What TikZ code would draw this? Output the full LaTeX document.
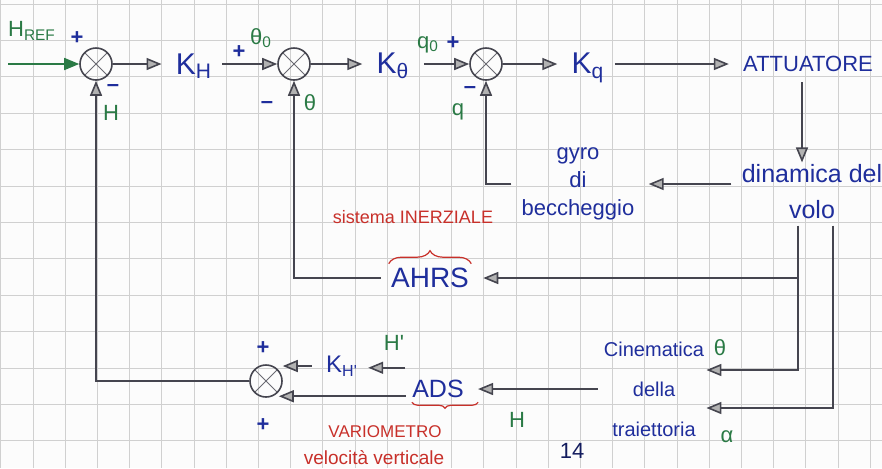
\documentclass[tikz,border=0pt]{standalone}
\usepackage{fontspec}
\setmainfont{Liberation Sans}
\usetikzlibrary{arrows.meta,positioning,calc,decorations.pathreplacing}
\definecolor{blueink}{HTML}{1F2E9C}
\definecolor{greenink}{HTML}{2A7A45}
\definecolor{redink}{HTML}{C8302A}
\definecolor{lineink}{HTML}{45454F}
\definecolor{gridink}{HTML}{D0D0D0}
\definecolor{paper}{HTML}{FCFCFC}
\tikzset{
  blk/.style={text=blueink, inner sep=1pt, align=center, font=\fontsize{11}{15}\selectfont},
  gain/.style={text=blueink, inner sep=1pt, font=\fontsize{15}{18}\selectfont},
  sig/.style={text=greenink, inner sep=1pt, font=\fontsize{11}{13}\selectfont},
  sgn/.style={text=blueink, inner sep=0pt, font=\fontsize{11}{13}\selectfont\bfseries},
  note/.style={text=redink, inner sep=1pt, align=center, font=\fontsize{8.5}{10}\selectfont},
  sumj/.style={circle, draw=lineink, line width=0.8pt, minimum size=16pt, inner sep=0pt,
    path picture={\draw[lineink!80, line width=0.5pt]
      (path picture bounding box.north west) -- (path picture bounding box.south east)
      (path picture bounding box.north east) -- (path picture bounding box.south west);}},
  arr/.style={-{Triangle[length=7.5pt, width=6pt, fill=gray!60]}, draw=lineink, line width=0.8pt},
  wire/.style={draw=lineink, line width=0.8pt},
  gridline/.style={draw=gridink, line width=0.5pt},
  redbrace/.style={draw=redink, line width=0.6pt, decorate},
}

\begin{document}
\begin{tikzpicture}[x=0.5pt, y=-0.5pt]
  \useasboundingbox (0,0) rectangle (882,468);
  \fill[paper] (0,0) rectangle (882,468);
  % squared paper
  \foreach \gx in {0,...,27} \draw[gridline] ({0.8+32.2*\gx},0) -- ++(0,468);
  \foreach \gy in {0,...,12} \draw[gridline] (0,{4+36.4*\gy}) -- ++(882,0);

  % forward chain
  \node[sig] (href) at (32,31) {H\textsubscript{REF}};
  \coordinate (hin) at (8,64);
  \node[sumj] (s1) at (96,64) {};
  \node[gain] (kh) at (194,66) {K\textsubscript{H}};
  \node[sumj] (s2) at (294,64) {};
  \node[gain] (kth) at (393,66) {K\textsubscript{θ}};
  \node[sumj] (s3) at (486,64) {};
  \node[gain] (kq) at (588,68) {K\textsubscript{q}};
  \node[blk] (att) at (808,64) {ATTUATORE};
  % plant and sensors
  \node[blk, font=\fontsize{12.5}{18}\selectfont] (dyn) at (812,192) {dinamica del\\volo};
  \node[blk, font=\fontsize{11}{14}\selectfont] (gyro) at (578,184) {gyro\\di\\beccheggio};
  \node[blk, font=\fontsize{14}{16}\selectfont] (ahrs) at (430,278) {AHRS};
  \node[blk, font=\fontsize{10}{20}\selectfont] (cin) at (654,389) {Cinematica\\della\\traiettoria};
  \node[blk, font=\fontsize{12.5}{15}\selectfont] (ads) at (438,389) {ADS};
  \node[gain, font=\fontsize{12}{14}\selectfont] (khd) at (342,366) {K\textsubscript{H\textquotesingle}};
  \node[sumj] (s4) at (266,381) {};

  % signs and signals
  \node[sgn] (p1) at (77,38) {+};
  \node[sgn] (m1) at (113,88) {–};
  \node[sig] (lbH) at (111,113) {H};
  \node[sgn] (p2) at (239,52) {+};
  \node[sig] (lbth0) at (261,38) {θ\textsubscript{0}};
  \node[sgn] (m2) at (267,105) {–};
  \node[sig] (lbth) at (310,103) {θ};
  \node[sig] (lbq0) at (428,45) {q\textsubscript{0}};
  \node[sgn] (p3) at (453,43) {+};
  \node[sgn] (m3) at (470,90) {–};
  \node[sig] (lbq) at (458,112) {q};
  \node[sgn] (p4) at (263,348) {+};
  \node[sgn] (p5) at (263,425) {+};
  \node[sig] (lbHd) at (394,343) {H\textquotesingle};
  \node[sig] (lbHb) at (517,420) {H};
  \node[sig] (lbthc) at (720,348) {θ};
  \node[sig] (lbal) at (727,437) {α};
  \node[text=blueink!60!black, font=\fontsize{11}{13}\selectfont] (pg) at (572,451) {14};

  % red remarks
  \node[note, font=\fontsize{9}{10}\selectfont] (ins) at (413,217) {sistema INERZIALE};
  \draw[redbrace, decoration={brace, amplitude=6.5pt, raise=1pt}]
    (ahrs.north west) -- (ahrs.north east);
  \draw[redbrace, decoration={brace, mirror, amplitude=3pt}]
    ([xshift=1pt,yshift=-1pt]ads.south west) -- ([xshift=6pt,yshift=-1pt]ads.south east);
  \node[note] (vario) at (385,432) {VARIOMETRO};
  \node[note, font=\fontsize{9.5}{11}\selectfont] (vvert) at (374,458) {velocità verticale};

  % arrows
  \draw[arr, draw=greenink, -{Triangle[length=7.5pt, width=6pt, fill=greenink]}] (hin) -- (s1.west);
  \draw[arr, shorten >=6pt] (s1.east) -- (s1.east -| kh.west);
  \draw[arr, shorten <=4pt] (kh.east |- s2.west) -- (s2.west);
  \draw[arr, shorten >=6pt] (s2.east) -- (s2.east -| kth.west);
  \draw[arr, shorten <=6pt] (kth.east |- s3.west) -- (s3.west);
  \draw[arr, shorten >=6pt] (s3.east) -- (s3.east -| kq.west);
  \draw[arr, shorten <=4pt, shorten >=6pt] (kq.east |- att.west) -- (att.west);
  \draw[arr, shorten <=4pt] ([xshift=-3pt]att.south) -- ([xshift=-3pt]att.south |- dyn.north);
  \draw[arr, shorten <=4pt, shorten >=6pt] (dyn.west |- gyro.east) -- (gyro.east);
  \draw[arr, shorten <=4pt] (gyro.west) -| (s3.south);
  \coordinate (tapA) at ($(dyn.south)+(-14,4)$);
  \coordinate (tapB) at ($(dyn.south)+(21,4)$);
  \draw[arr] (tapA) |- ($(cin.east)+(0,-19)$);
  \draw[arr, shorten >=6pt] (tapA |- ahrs.east) -- (ahrs.east);
  \draw[arr] (tapB) |- ($(cin.east)+(0,19)$);
  \draw[arr, shorten <=4pt] (ahrs.west) -| (s2.south);
  \draw[arr, shorten <=2pt, shorten >=6pt] (cin.west) -- (ads.east);
  \coordinate (adsH) at ($(ads.north west)+(-5,-10)$);
  \draw[arr, shorten >=4pt] (adsH) -- (adsH -| khd.east);
  \draw[arr, shorten <=6pt] (khd.west) -- (khd.west -| s4.east);
  \draw[arr] ([xshift=-2pt,yshift=2pt]ads.south west) -- ([xshift=-2pt,yshift=2pt]ads.south west -| s4.east);
  \draw[arr] (s4.west) -| (s1.south);
\end{tikzpicture}
\end{document}
